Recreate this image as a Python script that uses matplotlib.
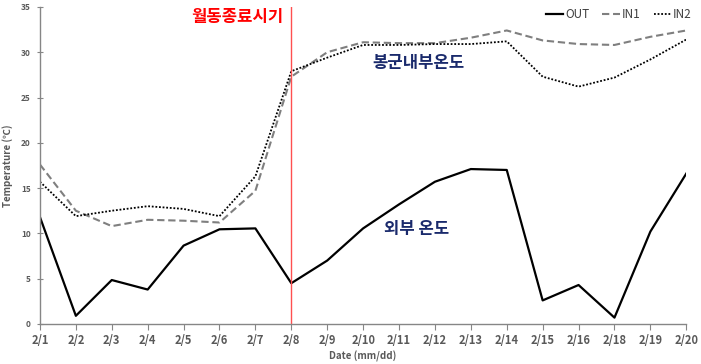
import matplotlib
matplotlib.use("Agg")
import matplotlib.pyplot as plt

plt.rcParams['font.family'] = ['Noto Sans CJK KR', 'DejaVu Sans']

dates = ["2/1","2/2","2/3","2/4","2/5","2/6","2/7","2/8","2/9","2/10","2/11","2/12","2/13","2/14","2/15","2/16","2/18","2/19","2/20"]
out_t = [11.8,0.9,4.85,3.8,8.65,10.45,10.55,4.5,7.0,10.55,13.2,15.7,17.1,17.0,2.6,4.3,0.7,10.2,16.6]
in1_t = [17.6,12.5,10.8,11.5,11.4,11.2,14.7,27.3,30.0,31.1,31.0,31.0,31.6,32.4,31.3,30.9,30.8,31.7,32.4]
in2_t = [15.7,11.9,12.5,13.0,12.7,11.9,16.3,27.9,29.4,30.8,30.8,30.9,30.9,31.2,27.3,26.2,27.2,29.2,31.4]
event_idx = 7

fig = plt.figure(figsize=(7.01, 3.64), dpi=100)
ax = fig.add_axes([0.057, 0.110, 0.922, 0.871])
x = list(range(len(dates)))
ax.plot(x, out_t, color='black', lw=1.6, label='OUT')
ax.plot(x, in1_t, color='#7f7f7f', lw=1.5, ls=(0, (3.5, 1.8)), label='IN1')
ax.plot(x, in2_t, color='black', lw=1.3, ls=(0, (1, 1)), label='IN2')
ax.axvline(event_idx, color='#ff5050', lw=1.0)

ax.set_xlim(0, len(dates) - 1)
ax.set_ylim(0, 35)
ax.set_xticks(x)
ax.set_xticklabels(dates)
ax.set_yticks(range(0, 36, 5))
for s in ['top', 'right']:
    ax.spines[s].set_visible(False)
for s in ['left', 'bottom']:
    ax.spines[s].set_color('#868686')
    ax.spines[s].set_linewidth(1.0)
ax.tick_params(axis='x', direction='out', length=4, color='#868686', labelsize=8, labelcolor='#595959', pad=3)
ax.tick_params(axis='y', direction='inout', length=5, color='#868686', labelsize=6, labelcolor='#595959', pad=4)
for t in ax.get_xticklabels() + ax.get_yticklabels():
    t.set_fontweight('bold')
ax.set_xlabel('Date (mm/dd)', fontsize=7, color='#595959', fontweight='bold', labelpad=3)
ax.set_ylabel('Temperature (℃)', fontsize=7, color='#595959', fontweight='bold', labelpad=6)

ax.text(5.5, 33.9, '월동종료시기', color='#ff0000', fontsize=12, fontweight='bold', ha='center', va='center')
ax.text(10.55, 28.8, '봉군내부온도', color='#1a2a6c', fontsize=12, fontweight='bold', ha='center', va='center')
ax.text(10.5, 10.5, '외부 온도', color='#1a2a6c', fontsize=12, fontweight='bold', ha='center', va='center')

leg = ax.legend(loc='upper right', bbox_to_anchor=(1.025, 1.03), ncol=3, frameon=False,
                fontsize=8.5, handlelength=1.5, handletextpad=0.15, columnspacing=1.1)
for t in leg.get_texts():
    t.set_color('#404040')

fig.savefig('out.png', dpi=100)
